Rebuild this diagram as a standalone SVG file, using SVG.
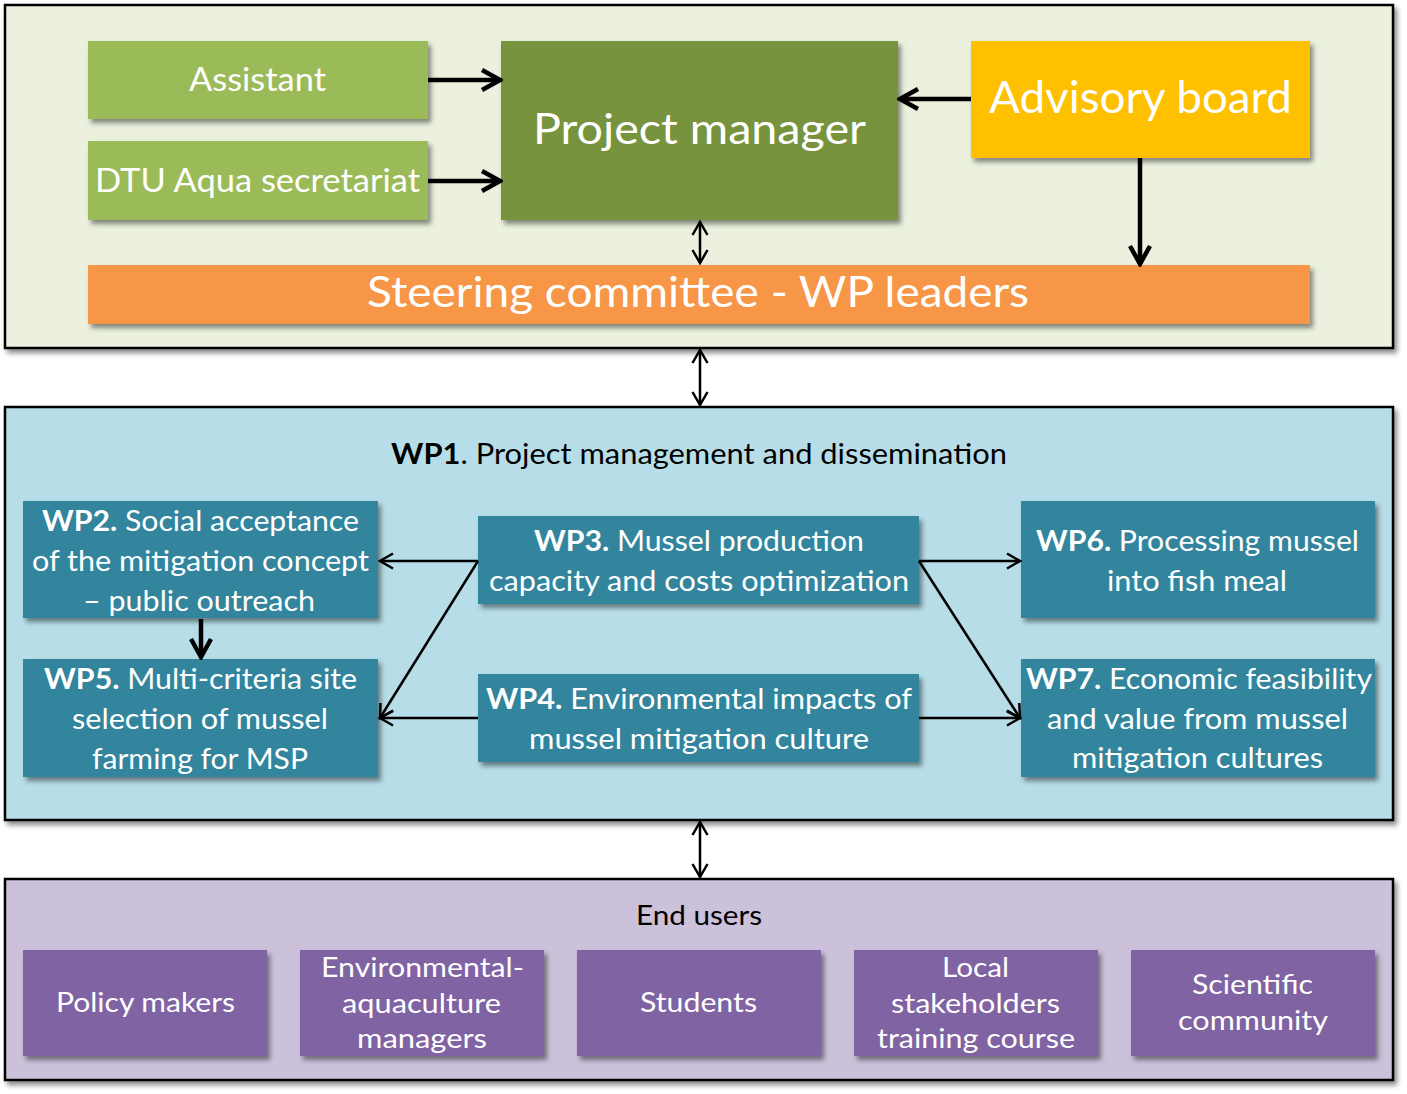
<svg xmlns="http://www.w3.org/2000/svg" width="1407" height="1094" viewBox="0 0 1407 1094">
<style>
text{font-family:Lato,"Open Sans","Liberation Sans",sans-serif;fill:#fff}
.dark{fill:#000}
.b{font-weight:bold}
.panel{stroke:#000;stroke-width:2.5}
.thick{stroke:#000;stroke-width:4.5;fill:none}
.thin{stroke:#000;stroke-width:2.5;fill:none}
.wp{fill:#31859c}
.eu{fill:#8064a2}
</style>
<defs>
<filter id="sh" x="-5%" y="-5%" width="115%" height="125%">
<feDropShadow dx="3" dy="4" stdDeviation="2.5" flood-color="#000" flood-opacity="0.45"/>
</filter>
<marker id="ah" viewBox="0 0 24 24" refX="21" refY="12" markerWidth="24" markerHeight="24" markerUnits="userSpaceOnUse" orient="auto-start-reverse">
<path d="M3,2 L21,12 L3,22" fill="none" stroke="#000" stroke-width="4.5"/>
</marker>
<marker id="at" viewBox="0 0 18 18" refX="15" refY="9" markerWidth="18" markerHeight="18" markerUnits="userSpaceOnUse" orient="auto-start-reverse">
<path d="M2,1.5 L15,9 L2,16.5" fill="none" stroke="#000" stroke-width="2.5"/>
</marker>
</defs>

<g id="panel-top">
<rect class="panel" x="5" y="5" width="1388" height="343" fill="#ebf1de" filter="url(#sh)"/>
</g>
<g id="panel-wp">
<rect class="panel" x="5" y="407" width="1388" height="413" fill="#b7dee8" filter="url(#sh)"/>
<text class="dark" x="391" y="464" font-size="29" textLength="616" lengthAdjust="spacingAndGlyphs"><tspan class="b">WP1</tspan>. Project management and dissemination</text>
</g>
<g id="panel-endusers">
<rect class="panel" x="5" y="879" width="1388" height="201" fill="#ccc1da" filter="url(#sh)"/>
<text class="dark" x="636" y="925" font-size="26" textLength="126" lengthAdjust="spacingAndGlyphs">End users</text>
</g>

<g id="assistant">
<rect x="88" y="41" width="340" height="78" fill="#9bbb59" filter="url(#sh)"/>
<text x="189" y="91" font-size="33" textLength="137" lengthAdjust="spacingAndGlyphs">Assistant</text>
</g>
<g id="dtu">
<rect x="88" y="141" width="340" height="79" fill="#9bbb59" filter="url(#sh)"/>
<text x="95" y="192" font-size="33" textLength="325" lengthAdjust="spacingAndGlyphs">DTU Aqua secretariat</text>
</g>
<g id="project-manager">
<rect x="501" y="41" width="397" height="179" fill="#77933c" filter="url(#sh)"/>
<text x="533" y="144" font-size="43" textLength="333" lengthAdjust="spacingAndGlyphs">Project manager</text>
</g>
<g id="advisory-board">
<rect x="971" y="41" width="339" height="117" fill="#ffc000" filter="url(#sh)"/>
<text x="989" y="113" font-size="44" textLength="303" lengthAdjust="spacingAndGlyphs">Advisory board</text>
</g>
<g id="steering">
<rect x="88" y="265" width="1222" height="59" fill="#f79646" filter="url(#sh)"/>
<text x="367" y="307" font-size="42" textLength="662" lengthAdjust="spacingAndGlyphs">Steering committee - WP leaders</text>
</g>

<g id="wp2">
<rect class="wp" x="23" y="501" width="355" height="117" filter="url(#sh)"/>
<text x="42" y="531" font-size="29" textLength="317" lengthAdjust="spacingAndGlyphs"><tspan class="b">WP2.</tspan> Social acceptance</text>
<text x="32" y="571" font-size="29" textLength="337" lengthAdjust="spacingAndGlyphs">of the mitigation concept</text>
<text x="83" y="611" font-size="29" textLength="232" lengthAdjust="spacingAndGlyphs">– public outreach</text>
</g>
<g id="wp5">
<rect class="wp" x="23" y="659" width="355" height="118" filter="url(#sh)"/>
<text x="44" y="689" font-size="29" textLength="313" lengthAdjust="spacingAndGlyphs"><tspan class="b">WP5.</tspan> Multi-criteria site</text>
<text x="72" y="729" font-size="29" textLength="256" lengthAdjust="spacingAndGlyphs">selection of mussel</text>
<text x="92" y="769" font-size="29" textLength="216" lengthAdjust="spacingAndGlyphs">farming for MSP</text>
</g>
<g id="wp3">
<rect class="wp" x="478" y="516" width="441" height="88" filter="url(#sh)"/>
<text x="534" y="551" font-size="29" textLength="330" lengthAdjust="spacingAndGlyphs"><tspan class="b">WP3.</tspan> Mussel production</text>
<text x="489" y="591" font-size="29" textLength="420" lengthAdjust="spacingAndGlyphs">capacity and costs optimization</text>
</g>
<g id="wp4">
<rect class="wp" x="478" y="674" width="441" height="88" filter="url(#sh)"/>
<text x="486" y="709" font-size="29" textLength="426" lengthAdjust="spacingAndGlyphs"><tspan class="b">WP4.</tspan> Environmental impacts of</text>
<text x="529" y="749" font-size="29" textLength="340" lengthAdjust="spacingAndGlyphs">mussel mitigation culture</text>
</g>
<g id="wp6">
<rect class="wp" x="1021" y="501" width="354" height="117" filter="url(#sh)"/>
<text x="1036" y="551" font-size="29" textLength="323" lengthAdjust="spacingAndGlyphs"><tspan class="b">WP6.</tspan> Processing mussel</text>
<text x="1107" y="591" font-size="29" textLength="180" lengthAdjust="spacingAndGlyphs">into fish meal</text>
</g>
<g id="wp7">
<rect class="wp" x="1021" y="659" width="354" height="118" filter="url(#sh)"/>
<text x="1026" y="689" font-size="29" textLength="346" lengthAdjust="spacingAndGlyphs"><tspan class="b">WP7.</tspan> Economic feasibility</text>
<text x="1047" y="729" font-size="29" textLength="301" lengthAdjust="spacingAndGlyphs">and value from mussel</text>
<text x="1072" y="768" font-size="29" textLength="251" lengthAdjust="spacingAndGlyphs">mitigation cultures</text>
</g>

<g id="policy-makers">
<rect class="eu" x="23" y="950" width="244" height="106" filter="url(#sh)"/>
<text x="56" y="1012" font-size="26" textLength="179" lengthAdjust="spacingAndGlyphs">Policy makers</text>
</g>
<g id="env-managers">
<rect class="eu" x="300" y="950" width="244" height="106" filter="url(#sh)"/>
<text x="321" y="977" font-size="26" textLength="203" lengthAdjust="spacingAndGlyphs">Environmental-</text>
<text x="342" y="1013" font-size="26" textLength="159" lengthAdjust="spacingAndGlyphs">aquaculture</text>
<text x="357" y="1048" font-size="26" textLength="130" lengthAdjust="spacingAndGlyphs">managers</text>
</g>
<g id="students">
<rect class="eu" x="577" y="950" width="244" height="106" filter="url(#sh)"/>
<text x="640" y="1012" font-size="26" textLength="117" lengthAdjust="spacingAndGlyphs">Students</text>
</g>
<g id="local-stakeholders">
<rect class="eu" x="854" y="950" width="244" height="106" filter="url(#sh)"/>
<text x="942" y="977" font-size="26" textLength="67" lengthAdjust="spacingAndGlyphs">Local</text>
<text x="891" y="1013" font-size="26" textLength="169" lengthAdjust="spacingAndGlyphs">stakeholders</text>
<text x="877" y="1048" font-size="26" textLength="198" lengthAdjust="spacingAndGlyphs">training course</text>
</g>
<g id="scientific-community">
<rect class="eu" x="1131" y="950" width="244" height="106" filter="url(#sh)"/>
<text x="1192" y="994" font-size="26" textLength="121" lengthAdjust="spacingAndGlyphs">Scientific</text>
<text x="1178" y="1030" font-size="26" textLength="150" lengthAdjust="spacingAndGlyphs">community</text>
</g>

<g id="connectors">
<line class="thick" x1="428" y1="80" x2="500" y2="80" marker-end="url(#ah)"/>
<line class="thick" x1="428" y1="181" x2="500" y2="181" marker-end="url(#ah)"/>
<line class="thick" x1="971" y1="99" x2="900" y2="99" marker-end="url(#ah)"/>
<line class="thick" x1="1140" y1="158" x2="1140" y2="264" marker-end="url(#ah)"/>
<line class="thin" x1="700" y1="222" x2="700" y2="263" marker-start="url(#at)" marker-end="url(#at)"/>
<line class="thin" x1="700" y1="350" x2="700" y2="405" marker-start="url(#at)" marker-end="url(#at)"/>
<line class="thin" x1="700" y1="822" x2="700" y2="877" marker-start="url(#at)" marker-end="url(#at)"/>
<line class="thick" x1="201" y1="619" x2="201" y2="657" marker-end="url(#ah)"/>
<line class="thin" x1="478" y1="561" x2="380" y2="561" marker-end="url(#at)"/>
<line class="thin" x1="478" y1="561" x2="380" y2="718" marker-end="url(#at)"/>
<line class="thin" x1="478" y1="718" x2="380" y2="718" marker-end="url(#at)"/>
<line class="thin" x1="919" y1="561" x2="1020" y2="561" marker-end="url(#at)"/>
<line class="thin" x1="919" y1="561" x2="1020" y2="718" marker-end="url(#at)"/>
<line class="thin" x1="919" y1="718" x2="1020" y2="718" marker-end="url(#at)"/>
</g>
</svg>
